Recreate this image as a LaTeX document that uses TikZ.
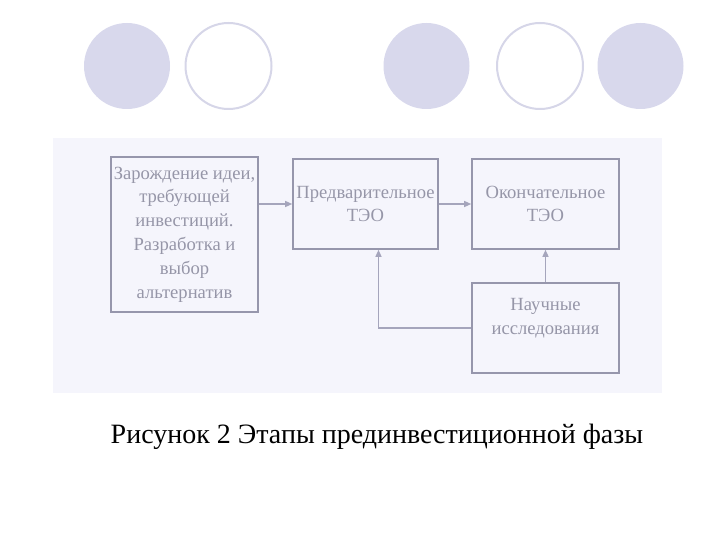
\documentclass[tikz,border=0pt]{standalone}
\usepackage{fontspec}
\setmainfont{Liberation Serif}
\usepackage{tikz}
\usetikzlibrary{arrows.meta,positioning,calc}
\usepackage{xcolor}
\definecolor{dotfill}{RGB}{216,216,236}
\definecolor{dotline}{RGB}{214,214,232}
\definecolor{panelbg}{RGB}{245,245,252}
\definecolor{boxline}{RGB}{150,150,172}
\definecolor{boxtext}{RGB}{150,150,168}
\definecolor{arrline}{RGB}{165,165,188}
\tikzset{
    stage/.style={draw=boxline, line width=1.6pt, fill=panelbg,
                  minimum width=#1, inner sep=1pt, align=center,
                  text=boxtext, font=\fontsize{18.6}{23.8}\selectfont},
    dot/.style={circle, minimum size=86pt, inner sep=0pt},
}

\begin{document}
\begin{tikzpicture}[
    x=1pt, y=-1pt,
    arr/.style={-{Triangle[length=7pt,width=6pt]}, line width=1.3pt, arrline},
]
    \useasboundingbox (0,0) rectangle (720,540);
    % decoration circles
    \node[dot, fill=dotfill] (c1) at (127,66) {};
    \node[dot, draw=dotline, line width=2pt, fill=white] (c2) at (228.5,66) {};
    \node[dot, fill=dotfill] (c3) at (426.5,66) {};
    \node[dot, draw=dotline, line width=2pt, fill=white] (c4) at (540,66) {};
    \node[dot, fill=dotfill] (c5) at (640.5,66) {};

    \fill[panelbg] (53,138) rectangle (662,393);

    \node[stage=147pt, minimum height=155pt] (idea) at (184.5,234.5)
        {Зарождение идеи,\\требующей\\инвестиций.\\Разработка и\\выбор\\альтернатив};
    \node[stage=145pt, minimum height=90pt] (pre) at (365.5,204)
        {Предварительное\\ТЭО};
    \node[stage=147pt, minimum height=90pt] (fin) at (545.5,204)
        {Окончательное\\ТЭО};
    \node[stage=147pt, minimum height=90pt] (res) at (545.5,328)
        {Научные\\исследования\\[-1pt]};
    \coordinate (turn) at ($(pre.south)+(13,0)$);

    \draw[arr] (idea.east |- pre.west) -- (pre.west);
    \draw[arr] (pre.east) -- (fin.west);
    \draw[arr] (res.north) -- (fin.south);
    \draw[arr] (res.west) -| (turn);

    \node[font=\fontsize{28}{32}\selectfont] (cap) at (377,437)
        {Рисунок 2 Этапы прединвестиционной фазы};
\end{tikzpicture}
\end{document}
